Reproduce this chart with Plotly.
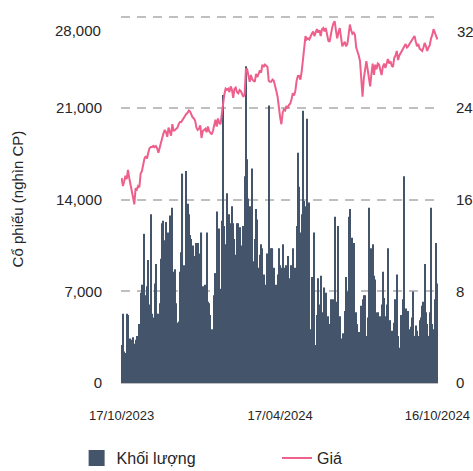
import pandas as pd
import plotly.graph_objects as go

# ---------------- data ----------------
START_DATE = "2023-10-17"
END_DATE = "2024-10-16"
HOLIDAYS = ["2024-01-01", "2024-02-08", "2024-02-09", "2024-02-12", "2024-02-13",
            "2024-02-14", "2024-04-18", "2024-04-29", "2024-04-30", "2024-05-01",
            "2024-09-02", "2024-09-03"]

TICK_LABELS = ["17/10/2023", "17/04/2024", "16/10/2024"]

# Volume (thousand shares), one value per trading day, grouped by month
VOLUME = [
    # Oct 2023
    2900, 5300, 2400, 2300, 5300, 5200, 2600, 3400, 3300, 3500, 3000,
    # Nov
    3300, 3600, 2700, 4500, 6900, 7500, 6600, 11400, 6700, 7400, 9400, 6000,
    12900, 5300, 5000, 7600, 9100, 5300, 5300, 6100, 9500, 12200,
    # Dec
    12400, 10900, 12300, 9800, 11500, 12800, 9000, 13400, 8500, 8700, 6100,
    4600, 4700, 8500, 10000, 16000, 9000, 8700, 16200, 13700, 12900,
    # Jan 2024
    11300, 11000, 10500, 9700, 8200, 10700, 10700, 9900, 9200, 11500, 7400,
    6300, 7500, 11500, 6200, 6100, 5200, 4100, 4000, 6700, 8400, 13100,
    # Feb
    10500, 11800, 7200, 12400, 22000, 12000, 10600, 14500, 11100, 12900,
    12200, 13500, 12200, 11000, 9800, 12200,
    # Mar
    12200, 11900, 9400, 10500, 12000, 15800, 24200, 17100, 14100, 13500,
    9500, 16400, 9300, 11000, 13300, 12500, 8800, 9800, 10600, 10300, 8300,
    # Apr
    7100, 7500, 9900, 21200, 9700, 10300, 10300, 8800, 6200, 7500, 8300,
    10300, 9000, 8800, 10600, 8800, 7200, 9000, 9700,
    # May
    7100, 8000, 9000, 10300, 7200, 8800, 12000, 17600, 15000, 11500, 12900,
    20800, 13900, 13500, 20200, 13000, 13800, 4100, 8100, 6000, 11500, 2900,
    # Jun
    5200, 8000, 6000, 8200, 3600, 5400, 7300, 6900, 3600, 5100, 4500, 6400,
    5500, 6400, 12700, 5500, 6200, 12000, 5100, 3400,
    # Jul
    2700, 3800, 5500, 8100, 7000, 12700, 13300, 10700, 11100, 10700, 5100,
    5400, 4500, 3900, 2500, 5900, 6400, 6700, 6700, 3600, 5000, 13400, 5500,
    # Aug
    10300, 10600, 8200, 7900, 5400, 5400, 4400, 5100, 6000, 8500, 6500, 5100,
    6000, 10300, 3400, 4800, 4000, 2700, 4600, 6400, 8300, 3600,
    # Sep
    2700, 5200, 5200, 6400, 15800, 5700, 5500, 5500, 4100, 4300, 5000, 7000,
    3600, 4400, 4000, 3600, 4800, 5000, 5900,
    # Oct 2024
    6200, 9100, 5400, 4500, 3600, 5400, 13400, 4500, 4100, 6400, 10700, 7600,
]

# Price (thousand VND), one value per trading day
PRICE = [
    # Oct 2023
    17.9, 17.2, 17.6, 18.1, 17.8, 18.6, 17.9, 17.4, 16.8, 16.2, 15.6,
    # Nov
    17.0, 16.9, 17.2, 17.1, 18.3, 18.5, 19.1, 19.6, 19.8, 19.6, 20.1, 20.5,
    20.6, 20.6, 20.7, 20.6, 20.7, 20.5, 20.1, 20.6, 20.9, 21.4,
    # Dec
    21.8, 22.1, 21.9, 21.5, 22.3, 22.0, 21.6, 22.6, 22.0, 22.1, 22.2, 22.3,
    22.6, 22.8, 22.8, 23.0, 23.2, 23.3, 23.5, 23.6, 23.8,
    # Jan 2024
    23.7, 23.4, 23.2, 23.1, 22.9, 22.3, 22.1, 22.2, 22.5, 21.4, 22.0, 22.1,
    22.2, 21.9, 22.4, 22.0, 21.8, 21.7, 22.0, 22.6, 23.0, 22.4,
    # Feb
    23.1, 22.7, 22.6, 23.5, 24.6, 25.2, 25.7, 25.6, 25.7, 25.4, 25.9, 25.6,
    24.9, 25.7, 25.8, 25.4,
    # Mar
    25.3, 25.6, 25.5, 25.2, 25.0, 25.2, 27.4, 27.4, 26.8, 26.3, 26.9, 26.5,
    26.4, 26.3, 27.0, 26.7, 27.0, 27.3, 27.1, 27.8, 27.6,
    # Apr
    27.8, 27.7, 27.6, 26.4, 26.3, 26.3, 26.5, 26.4, 25.8, 25.5, 25.0, 23.9,
    23.2, 22.6, 23.6, 23.9, 23.8, 24.2, 24.0,
    # May
    24.3, 24.4, 24.8, 25.3, 25.1, 25.5, 26.4, 26.8, 26.8, 26.5, 27.2, 28.4,
    29.6, 30.3, 30.0, 30.1, 30.0, 30.3, 30.5, 30.7, 30.3, 30.6,
    # Jun
    30.9, 30.6, 30.8, 30.3, 30.9, 31.0, 30.7, 31.0, 30.4, 29.9, 29.8, 30.6,
    31.0, 31.4, 31.6, 30.8, 30.1, 30.6, 31.0, 30.2,
    # Jul
    29.4, 29.6, 29.8, 29.4, 29.6, 30.4, 31.3, 30.8, 30.5, 30.6, 30.4, 29.3,
    29.0, 28.6, 28.1, 26.8, 25.0, 26.6, 27.2, 28.1, 27.4, 26.5, 25.9,
    # Aug
    27.0, 27.9, 26.9, 27.8, 27.4, 27.9, 27.8, 27.4, 26.9, 27.6, 27.9, 27.5,
    27.9, 28.3, 27.9, 28.1, 27.7, 27.6, 28.4, 28.6, 29.0, 28.2,
    # Sep
    28.6, 28.8, 29.1, 29.2, 29.4, 29.6, 29.3, 29.4, 29.6, 29.8, 30.0, 30.2,
    30.3, 29.8, 29.4, 29.6, 29.2, 29.1, 29.0,
    # Oct 2024
    29.3, 29.7, 29.4, 29.0, 29.3, 29.5, 30.1, 30.4, 30.9, 30.6, 30.3, 30.0,
]

LEFT_TICKS = [0, 7000, 14000, 21000, 28000]
RIGHT_TICKS = [0, 8, 16, 24, 32]

# ---------------- build ----------------
days = pd.bdate_range(START_DATE, END_DATE)
days = days[~days.isin(pd.to_datetime(HOLIDAYS))]
dates = [d.strftime("%d/%m/%Y") for d in days]
assert len(dates) == len(VOLUME) == len(PRICE), (len(dates), len(VOLUME), len(PRICE))

BAR_COLOR = "#44546A"
LINE_COLOR = "#EE5F8C"
GRID_COLOR = "#BFBFBF"
TEXT_COLOR = "#262626"
FONT = "Liberation Sans, Arial, sans-serif"

Y_MAX = 28120  # tiny headroom so the 28,000 gridline is not dropped at the edge

fig = go.Figure()
fig.add_trace(go.Bar(
    x=dates, y=VOLUME, name="Khối lượng", yaxis="y",
    marker=dict(color=BAR_COLOR, line=dict(width=0)),
    showlegend=False,
))
# legend swatch for the bars (large square like the reference)
fig.add_trace(go.Scatter(
    x=[None], y=[None], name="Khối lượng", mode="markers",
    marker=dict(symbol="square", size=18, color=BAR_COLOR),
    showlegend=True, legend="legend",
))
fig.add_trace(go.Scatter(
    x=dates, y=PRICE, name="Giá", yaxis="y2", mode="lines",
    line=dict(color=LINE_COLOR, width=2),
    showlegend=True, legend="legend2",
))

fmt = lambda v: f"{v:,}"
legend_common = dict(orientation="h", xanchor="left", y=-0.204, yanchor="middle",
                     font=dict(size=16), bgcolor="rgba(0,0,0,0)")
fig.update_layout(
    width=473, height=471,
    margin=dict(l=121, r=35, t=15, b=88, autoexpand=False),
    paper_bgcolor="white", plot_bgcolor="white",
    bargap=0.12,
    font=dict(family=FONT, color=TEXT_COLOR, size=15),
    xaxis=dict(
        type="category",
        tickmode="array",
        tickvals=[dates[0], dates[len(dates) // 2], dates[-1]],
        ticktext=TICK_LABELS,
        tickfont=dict(size=13),
        showgrid=False, zeroline=False,
        showline=True, linecolor=GRID_COLOR, linewidth=1,
        ticks="", ticklabelstandoff=20,
        automargin=False,
    ),
    yaxis=dict(
        range=[0, Y_MAX],
        tickmode="array",
        tickvals=LEFT_TICKS,
        ticktext=[fmt(v) for v in LEFT_TICKS[:-1]] + [""],
        showgrid=True, gridcolor=GRID_COLOR, gridwidth=1.5, griddash="9px,7px",
        zeroline=False, ticks="", ticklabelstandoff=18,
        title=dict(text="Cổ phiếu (nghìn CP)", font=dict(size=15), standoff=28),
        automargin=False,
    ),
    yaxis2=dict(
        overlaying="y", side="right",
        range=[0, 32 * Y_MAX / 28000],
        tickmode="array",
        tickvals=RIGHT_TICKS,
        ticktext=[str(v) for v in RIGHT_TICKS[:-1]] + [""],
        showgrid=False, zeroline=False, ticks="", ticklabelstandoff=17,
        automargin=False,
    ),
    legend=dict(x=-0.140, **legend_common),
    legend2=dict(x=0.492, **legend_common),
    annotations=[
        dict(text=fmt(LEFT_TICKS[-1]), xref="paper", yref="y", x=0, y=LEFT_TICKS[-1],
             xanchor="right", yanchor="middle", xshift=-18, yshift=-14,
             showarrow=False, font=dict(size=15)),
        dict(text=str(RIGHT_TICKS[-1]), xref="paper", yref="y2", x=1, y=RIGHT_TICKS[-1],
             xanchor="left", yanchor="middle", xshift=17, yshift=-15,
             showarrow=False, font=dict(size=15)),
    ],
)

# remove the default 8px page margin so the figure fills the window exactly
fig.write_html(
    "out.html",
    config={"displayModeBar": False},
    post_script="document.body.style.margin='0';"
                "document.documentElement.style.overflow='hidden';"
                "document.body.style.overflow='hidden';",
)
